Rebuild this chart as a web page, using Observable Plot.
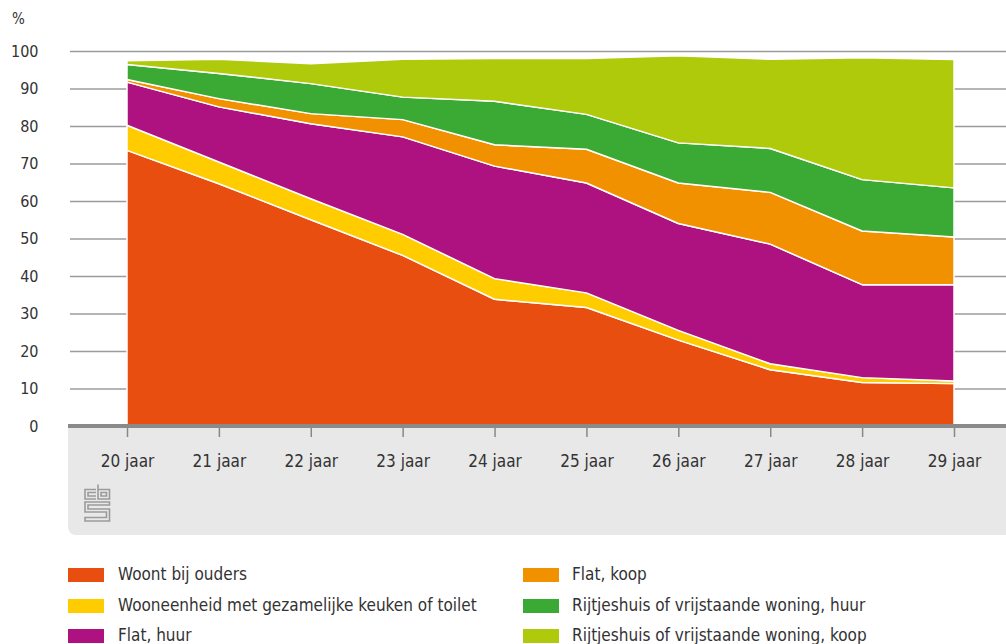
<!DOCTYPE html>
<html>
<head>
<meta charset="utf-8">
<script src="https://cdn.jsdelivr.net/npm/d3@7"></script>
<script src="https://cdn.jsdelivr.net/npm/@observablehq/plot@0.6"></script>
<style>
  html, body { margin: 0; padding: 0; background: #fff; }
  body { font-family: "DejaVu Sans Condensed", "DejaVu Sans", sans-serif; color: #333; }
  #wrap { position: relative; width: 1006px; height: 644px; overflow: hidden; }
  #band { position: absolute; left: 68px; top: 428px; width: 938px; height: 107px; background: #e8e8e8; border-bottom-left-radius: 8px; }
  #bandline { position: absolute; left: 68px; top: 424px; width: 938px; height: 4px; background: #8a8a8a; }
  #logo { position: absolute; left: 84px; top: 484px; }
  #chart { position: absolute; left: 0; top: 0; }
  #pct { position: absolute; left: 12px; top: 10px; font-size: 15px; color: #333; }
  .leg { position: absolute; font-size: 17px; color: #333; white-space: nowrap; }
  .sw { position: absolute; width: 36px; height: 14px; }
</style>
</head>
<body>
<div id="wrap">
  <div id="band"></div>
  <svg id="logo" width="27" height="38" viewBox="0 0 27 38">
    <g fill="none" stroke="#9a9a9a" stroke-width="1.6">
      <path d="M12 5.5 H1 V15 H12 M12 8.5 H4 V12 H12"/>
      <path d="M14 0.5 V15 H25.5 V5.5 H14 M17 8.5 H22.5 V12 H17 Z"/>
      <path d="M25.5 18 H1 V28 H22.5 V33.5 H1 V37 H25.5 V25 H4 V21 H25.5 Z"/>
    </g>
  </svg>
  <div id="chart"></div>
  <div id="bandline"></div>
  <div id="pct">%</div>
  <div id="legend"></div>
</div>
<script>
const ages = [20, 21, 22, 23, 24, 25, 26, 27, 28, 29];
const seriesNames = [
  "Woont bij ouders",
  "Wooneenheid met gezamelijke keuken of toilet",
  "Flat, huur",
  "Flat, koop",
  "Rijtjeshuis of vrijstaande woning, huur",
  "Rijtjeshuis of vrijstaande woning, koop"
];
const colors = ["#e84e10", "#ffcc00", "#ae1280", "#f29100", "#3aaa35", "#afca0b"];

const woontBijOuders = [73.5, 64.6, 55.0, 45.5, 33.8, 31.6, 22.9, 15.0, 11.6, 11.3];
const wooneenheid    = [6.7, 5.8, 5.6, 5.6, 5.5, 3.9, 2.6, 1.6, 1.3, 0.7];
const flatHuur       = [11.5, 14.7, 20.0, 26.0, 30.0, 29.3, 28.5, 31.9, 24.8, 25.7];
const flatKoop       = [0.7, 2.2, 2.7, 4.6, 5.7, 9.0, 10.8, 13.8, 14.3, 12.7];
const rijtjesHuur    = [4.0, 6.7, 8.0, 6.0, 11.6, 9.3, 10.7, 11.7, 13.7, 13.1];
const rijtjesKoop    = [1.0, 3.8, 5.3, 10.1, 11.4, 14.9, 23.2, 23.8, 32.5, 34.2];

const yTicks = [0, 10, 20, 30, 40, 50, 60, 70, 80, 90, 100];

const seriesValues = [woontBijOuders, wooneenheid, flatHuur, flatKoop, rijtjesHuur, rijtjesKoop];
const rows = [];
seriesNames.forEach((name, si) => {
  ages.forEach((age, i) => rows.push({ age, series: name, value: seriesValues[si][i] }));
});

const chart = Plot.plot({
  width: 1006,
  height: 545,
  marginTop: 51,
  marginBottom: 119,
  marginLeft: 70,
  marginRight: 0,
  style: { background: "transparent", fontFamily: "'DejaVu Sans Condensed', 'DejaVu Sans', sans-serif", color: "#333", overflow: "visible" },
  x: { type: "linear", domain: [20, 29], range: [127, 954] },
  y: { domain: [0, 100] },
  color: { domain: seriesNames, range: colors },
  marks: [
    Plot.ruleY(yTicks.filter(d => d > 0), { stroke: "#9c9c9c", strokeWidth: 1.3 }),
    Plot.areaY(rows, { x: "age", y: "value", z: "series", fill: "series", stroke: "#fff", strokeWidth: 1.5, fillOpacity: 1 }),
    Plot.axisY({ ticks: yTicks, tickSize: 0, tickPadding: 32, fontSize: 16, label: null, fill: "#333" }),
    Plot.axisX({ ticks: ages, tickFormat: d => d + " jaar", tickSize: 11, tickPadding: 17, fontSize: 17, label: null, stroke: "#888", strokeWidth: 1.5, fill: "#333" })
  ]
});
document.getElementById("chart").appendChild(chart);

// Legend (two columns, three rows)
const legend = document.getElementById("legend");
const rowY = [568, 599, 629];
const colSwX = [68, 523];
const colTxX = [118, 572];
seriesNames.forEach((name, i) => {
  const col = Math.floor(i / 3), row = i % 3;
  const sw = document.createElement("div");
  sw.className = "sw";
  sw.style.left = colSwX[col] + "px";
  sw.style.top = rowY[row] + "px";
  sw.style.background = colors[i];
  legend.appendChild(sw);
  const tx = document.createElement("div");
  tx.className = "leg";
  tx.style.left = colTxX[col] + "px";
  tx.style.top = (rowY[row] - 4) + "px";
  tx.textContent = name;
  legend.appendChild(tx);
});
</script>
</body>
</html>
